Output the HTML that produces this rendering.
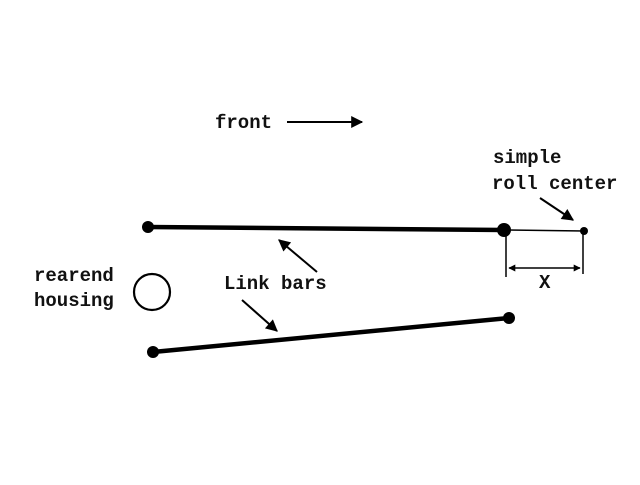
<!DOCTYPE html>
<html><head><style>body{margin:0;background:#fff}</style></head><body>
<svg width="640" height="480" viewBox="0 0 640 480" xmlns="http://www.w3.org/2000/svg">
<defs>
<marker id="a" viewBox="0 0 10 10" refX="9" refY="5" markerWidth="7" markerHeight="7" orient="auto-start-reverse" markerUnits="userSpaceOnUse"><path d="M0,0L10,5L0,10z" fill="#000"/></marker>
<marker id="b" viewBox="0 0 10 10" refX="9" refY="5" markerWidth="14" markerHeight="12" orient="auto" markerUnits="userSpaceOnUse"><path d="M0,0L10,5L0,10z" fill="#000"/></marker>
</defs>
<g font-family="Liberation Mono, monospace" font-weight="bold" font-size="19" fill="#111">
<text x="215" y="128">front</text>
<text x="493" y="163">simple</text>
<text x="492" y="189">roll center</text>
<text x="34" y="281">rearend</text>
<text x="34" y="306">housing</text>
<text x="224" y="289">Link bars</text>
<text x="539" y="288">X</text>
</g>
<g stroke="#000" fill="none">
<line x1="287" y1="122" x2="362" y2="122" stroke-width="2" marker-end="url(#b)"/>
<line x1="540" y1="198" x2="573" y2="220" stroke-width="2" marker-end="url(#b)"/>
<line x1="317" y1="272" x2="279" y2="240" stroke-width="2" marker-end="url(#b)"/>
<line x1="242" y1="300" x2="277" y2="331" stroke-width="2" marker-end="url(#b)"/>
<line x1="148" y1="227" x2="504" y2="230" stroke-width="4.5"/>
<line x1="153" y1="352" x2="509" y2="318" stroke-width="4.5"/>
<line x1="504" y1="230" x2="584" y2="231" stroke-width="1.5"/>
<line x1="506" y1="232" x2="506" y2="277" stroke-width="1.5"/>
<line x1="583" y1="232" x2="583" y2="274" stroke-width="1.5"/>
<line x1="509" y1="268" x2="580" y2="268" stroke-width="1.5" marker-start="url(#a)" marker-end="url(#a)"/>
<circle cx="152" cy="292" r="18" stroke-width="2.2"/>
</g>
<g fill="#000">
<circle cx="148" cy="227" r="6"/>
<circle cx="504" cy="230" r="7"/>
<circle cx="153" cy="352" r="6"/>
<circle cx="509" cy="318" r="6"/>
<circle cx="584" cy="231" r="4"/>
</g>
</svg>
</body></html>
